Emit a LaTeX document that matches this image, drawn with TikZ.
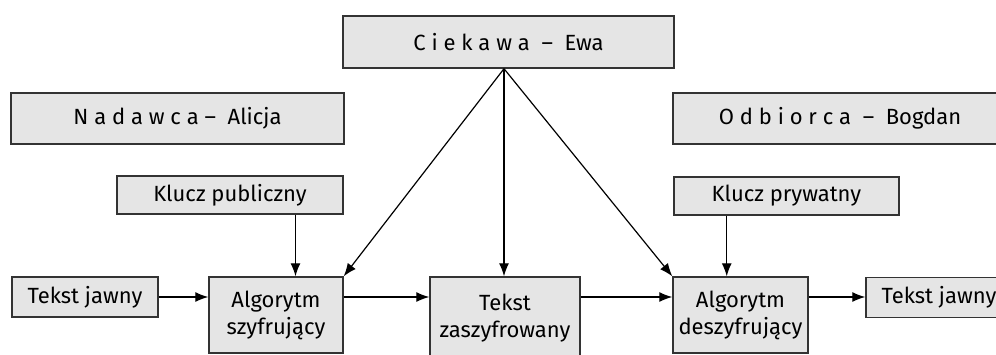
\documentclass[tikz,border=0pt]{standalone}
\usepackage{fontspec}
\setmainfont{Fira Sans}
\usetikzlibrary{arrows.meta,calc}
\begin{document}
\begin{tikzpicture}[x=0.5pt,y=-0.5pt,
  box/.style={draw=black!80,line width=0.7pt,fill=black!10,inner sep=0pt,align=center,
    font=\fontsize{11}{13.5}\selectfont},
  conn/.style={line width=0.6pt,black},
  arr/.style={conn,-{Latex[length=6.5pt,width=5pt]}}]
\useasboundingbox (0,0) rectangle (996,354);
\node[box,minimum width=165.5pt,minimum height=26pt] (ewa) at (508.5,42) {C i e k a w a \ – \ Ewa};
\node[box,minimum width=166.5pt,minimum height=25.5pt] (nad) at (177.5,118.5) {N a d a w c a – \ Alicja};
\node[box,minimum width=167pt,minimum height=25.5pt] (odb) at (840,118.5) {O d b i o r c a \ – \ Bogdan};
\node[box,minimum width=113pt,minimum height=19pt] (kp) at (230,195) {Klucz publiczny};
\node[box,minimum width=112.5pt,minimum height=19pt] (kpr) at (786.5,196) {Klucz prywatny};
\node[box,minimum width=73pt,minimum height=20pt] (tj1) at (85,297) {Tekst jawny};
\node[box,minimum width=67pt,minimum height=38pt] (as) at (276,315) {Algorytm\\szyfrujący};
\node[box,minimum width=75pt,minimum height=41.5pt] (tz) at (505,318.5) {Tekst\\zaszyfrowany};
\node[box,minimum width=67.5pt,minimum height=38pt] (ad) at (740.5,315) {Algorytm\\deszyfrujący};
\node[box,minimum width=73pt,minimum height=20pt] (tj2) at (939,297.5) {Tekst jawny};
% row arrows
\draw[arr] (tj1.east) -- (tj1.east -| as.west);
\draw[arr] (as.east |- tj1.east) -- (tz.west |- tj1.east);
\draw[arr] (tz.east |- tj1.east) -- (ad.west |- tj1.east);
\draw[arr] (ad.east |- tj1.east) -- (tj2.west |- tj1.east);
% key arrows
\coordinate (k1) at ($(kp.south east)!0.212!(kp.south west)$);
\draw[arr] (k1) -- (k1 |- as.north);
\coordinate (k2) at ($(kpr.south west)!0.236!(kpr.south east)$);
\draw[arr] (k2) -- (k2 |- ad.north);
% Ewa
\coordinate (e) at ($(ewa.south)+(-4.5,0)$);
\draw[arr] (e) -- (as.north east);
\draw[arr] (e) -- (e |- tz.north);
\draw[arr] (e) -- (ad.north west);
\end{tikzpicture}
\end{document}
